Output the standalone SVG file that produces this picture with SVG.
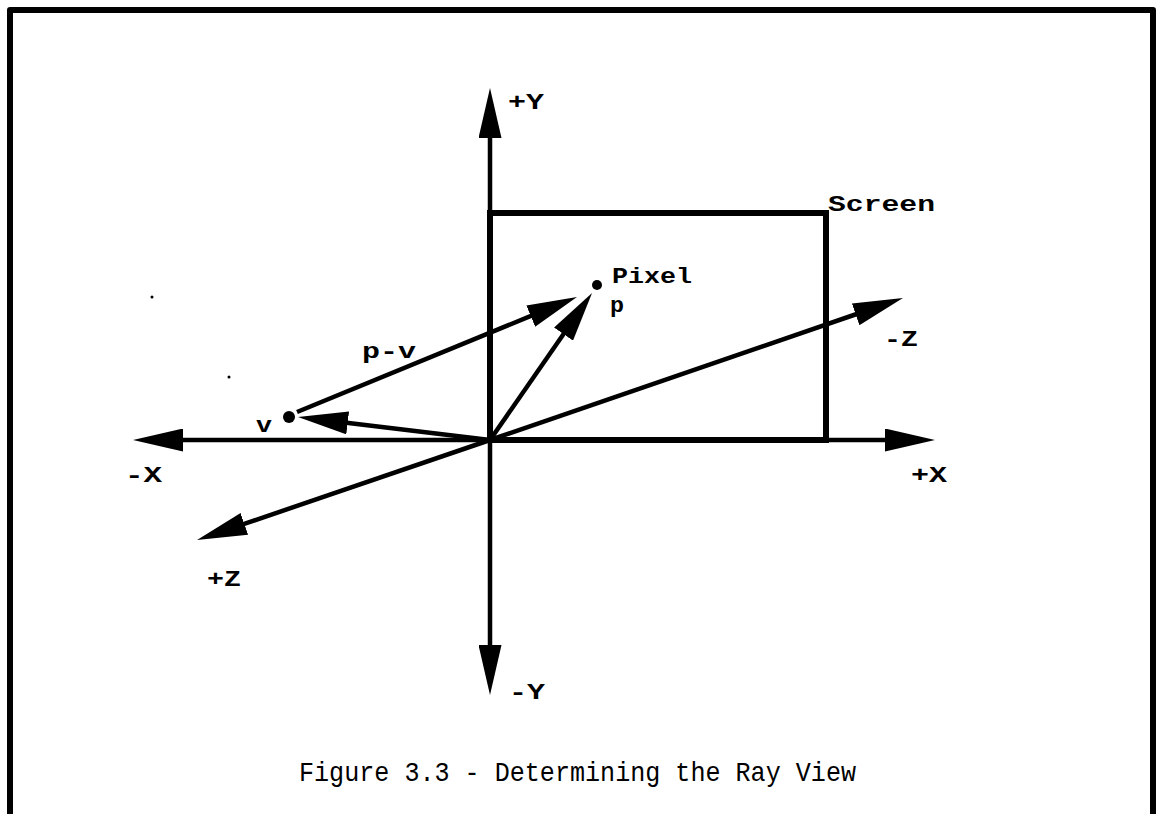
<svg xmlns="http://www.w3.org/2000/svg" width="1163" height="814" viewBox="0 0 1163 814">
<style>
.ax{stroke:#000;stroke-width:4.5;fill:none;marker-end:url(#ah)}
.lbl{font-family:"Liberation Mono","DejaVu Sans Mono",monospace;font-weight:bold;font-size:22px;fill:#000}
.cap{font-family:"Liberation Mono","DejaVu Sans Mono",monospace;font-size:28px;fill:#000}
</style>
<defs>
<marker id="ah" viewBox="0 0 50 23" refX="18" refY="11.5" markerWidth="50" markerHeight="23" markerUnits="userSpaceOnUse" orient="auto">
<path d="M0,0 L50,11.5 L0,23 Z" fill="#000"/>
</marker>
</defs>
<rect width="1163" height="814" fill="#fff"/>
<path id="frame" d="M10,814 V10 H1153 V814" fill="none" stroke="#000" stroke-width="6" stroke-linejoin="round"/>
<g id="screen">
<rect x="490" y="213" width="336" height="227" fill="none" stroke="#000" stroke-width="6"/>
<text class="lbl" x="828" y="211" textLength="107" lengthAdjust="spacingAndGlyphs">Screen</text>
</g>
<g id="connectors">
<line class="ax" x1="490" y1="440" x2="490" y2="120"/>
<line class="ax" x1="490" y1="440" x2="490" y2="663"/>
<line class="ax" x1="490" y1="440" x2="165" y2="440"/>
<line class="ax" x1="490" y1="440" x2="903" y2="440"/>
<line class="ax" x1="490" y1="440" x2="872.7" y2="308.5"/>
<line class="ax" x1="490" y1="440" x2="227.3" y2="529.7"/>
<line class="ax" x1="490" y1="440" x2="329.8" y2="420.8"/>
<line class="ax" x1="297" y1="412" x2="547.4" y2="309.2"/>
<line class="ax" x1="490" y1="440" x2="573.8" y2="319.3"/>
</g>
<g id="axis-labels">
<text class="lbl" x="508" y="109" textLength="36" lengthAdjust="spacingAndGlyphs">+Y</text>
<text class="lbl" x="509" y="699" textLength="36" lengthAdjust="spacingAndGlyphs">-Y</text>
<text class="lbl" x="125" y="482" textLength="37" lengthAdjust="spacingAndGlyphs">-X</text>
<text class="lbl" x="911" y="482" textLength="36" lengthAdjust="spacingAndGlyphs">+X</text>
<text class="lbl" x="884" y="346" textLength="34" lengthAdjust="spacingAndGlyphs">-Z</text>
<text class="lbl" x="207" y="586" textLength="34" lengthAdjust="spacingAndGlyphs">+Z</text>
</g>
<g id="pixel">
<circle cx="597" cy="285" r="5" fill="#000"/>
<text class="lbl" x="612" y="283" textLength="80" lengthAdjust="spacingAndGlyphs">Pixel</text>
<text class="lbl" x="610" y="312" textLength="14" lengthAdjust="spacingAndGlyphs">p</text>
</g>
<g id="viewpoint">
<circle cx="289" cy="417" r="6" fill="#000"/>
<text class="lbl" x="256" y="432" textLength="16" lengthAdjust="spacingAndGlyphs">v</text>
</g>
<g id="pv-label">
<text class="lbl" x="362" y="358" textLength="54" lengthAdjust="spacingAndGlyphs">p-v</text>
</g>
<g id="specks">
<circle cx="152" cy="297" r="1.5" fill="#000"/>
<circle cx="229" cy="377" r="1.5" fill="#000"/>
</g>
<g id="caption">
<text class="cap" x="299" y="781" textLength="557" lengthAdjust="spacingAndGlyphs">Figure 3.3 - Determining the Ray View</text>
</g>
</svg>
